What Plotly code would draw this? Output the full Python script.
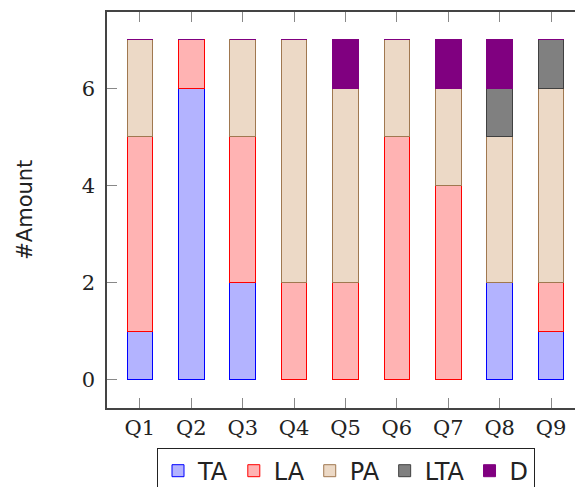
import plotly.graph_objects as go

categories = ["Q1", "Q2", "Q3", "Q4", "Q5", "Q6", "Q7", "Q8", "Q9"]
TA = [1, 6, 2, 0, 0, 0, 0, 2, 1]
LA = [4, 1, 3, 2, 2, 5, 4, 0, 1]
PA = [2, 0, 2, 5, 4, 2, 2, 3, 4]
LTA = [0, 0, 0, 0, 0, 0, 0, 1, 1]
D = [0, 0, 0, 0, 1, 0, 1, 1, 0]
y_ticks = [0, 2, 4, 6]

series = [
    ("TA", TA, "#b3b3ff", "#0000ff"),
    ("LA", LA, "#ffb3b3", "#ff0000"),
    ("PA", PA, "#ecd9c6", "#a07850"),
    ("LTA", LTA, "#808080", "#404040"),
    ("D", D, "#800080", "#800080"),
]

fig = go.Figure()
for name, vals, fill, line in series:
    fig.add_trace(go.Bar(
        x=categories, y=vals, name=name, width=0.5,
        marker=dict(color=fill, line=dict(color=line, width=1)),
    ))

fig.update_layout(
    barmode="stack",
    width=583, height=487,
    margin=dict(l=99, r=6, t=4, b=87, autoexpand=False),
    plot_bgcolor="white", paper_bgcolor="white",
    font=dict(family="DejaVu Serif", size=21, color="#222"),
    legend=dict(
        orientation="h", x=0.5, xanchor="center", y=-0.1, yanchor="top",
        bordercolor="#222", borderwidth=1, traceorder="normal",
        font=dict(family="DejaVu Sans", size=24, color="#222"),
        itemwidth=30, tracegroupgap=0,
    ),
    showlegend=True,
    annotations=[dict(
        text="#Amount", xref="paper", yref="paper", x=-0.172, y=0.5,
        xanchor="center", yanchor="middle", textangle=-90, showarrow=False,
        font=dict(family="DejaVu Sans", size=21, color="#222"),
    )],
)
fig.update_xaxes(
    range=[-0.64, 8.66], showline=True, linecolor="#444", linewidth=1.5,
    mirror="ticks", ticks="inside", ticklen=10, tickcolor="#888",
    showgrid=False, zeroline=False, automargin=False,
)
fig.update_yaxes(
    range=[-0.58, 7.57], tickvals=y_ticks, showline=True, linecolor="#444",
    linewidth=1.5, mirror="ticks", ticks="inside", ticklen=10, tickcolor="#888",
    showgrid=False, zeroline=False, ticklabelstandoff=6, automargin=False,
)

fig.write_html("out.html")
